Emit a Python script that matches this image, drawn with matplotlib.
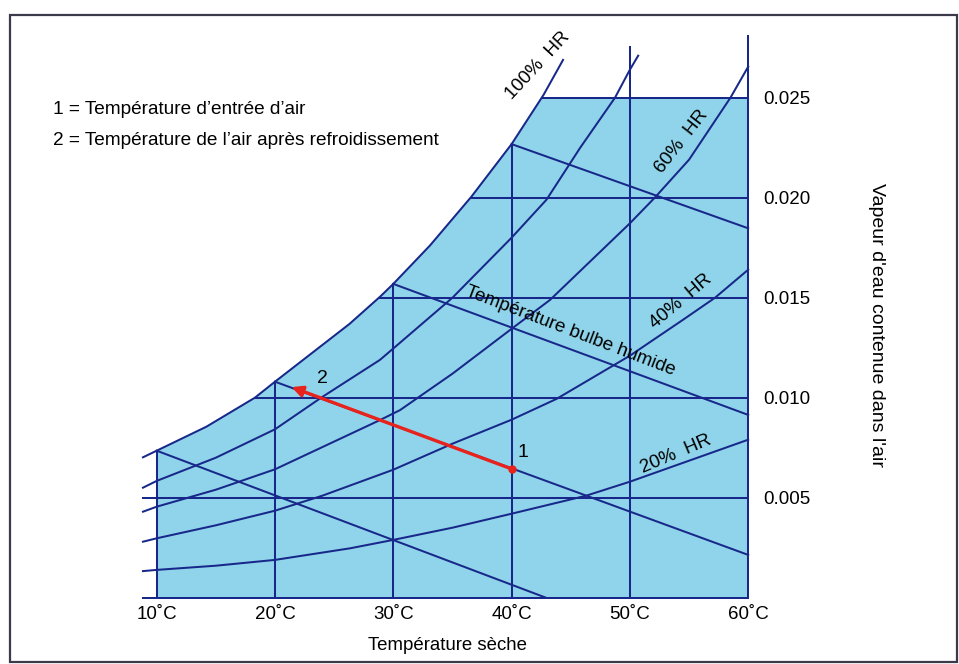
import matplotlib
matplotlib.use("Agg")
import matplotlib.pyplot as plt
import matplotlib.patches as mpatches

temp_ticks = [10, 20, 30, 40, 50, 60]
temp_labels = ["10˚C", "20˚C", "30˚C", "40˚C", "50˚C", "60˚C"]
w_ticks = [0.005, 0.010, 0.015, 0.020, 0.025]
w_labels = ["0.005", "0.010", "0.015", "0.020", "0.025"]

# courbes d'humidité relative (température sèche, teneur en eau)
rh100_t = [8.84, 10, 14.2, 18.3, 20, 26.3, 28.9, 30, 33.1, 36.6, 40, 42.7, 44.35]
rh100_w = [0.00702, 0.00735, 0.00855, 0.0100, 0.0108, 0.01369, 0.01506, 0.01569,
           0.01761, 0.02005, 0.02268, 0.02514, 0.02689]
rh80_t = [8.84, 10, 15, 20, 23.95, 28.87, 30, 35, 40, 42.95, 45.8, 48.74, 50, 50.7]
rh80_w = [0.0055, 0.00584, 0.0070, 0.00842, 0.01002, 0.01189, 0.01246, 0.0150,
          0.0180, 0.0199, 0.0225, 0.0250, 0.0264, 0.0271]
rh60_t = [8.84, 10, 15, 20, 28.87, 30.57, 35, 39.9, 43.25, 50, 52.1, 55, 58.5, 60]
rh60_w = [0.0043, 0.00455, 0.0054, 0.00642, 0.00888, 0.00938, 0.0112, 0.0134,
          0.01489, 0.01872, 0.0200, 0.0219, 0.0250, 0.02655]
rh40_t = [8.84, 10, 15, 20, 24.0, 30, 35, 40, 43.8, 50, 54.5, 57.2, 60]
rh40_w = [0.0028, 0.00297, 0.00362, 0.00435, 0.0051, 0.0064, 0.0077, 0.0089,
          0.00994, 0.0121, 0.0139, 0.0150, 0.0164]
rh20_t = [8.84, 10, 15, 20, 26.35, 30, 35, 40, 46.3, 50, 60]
rh20_w = [0.00133, 0.00139, 0.0016, 0.00189, 0.00247, 0.00289, 0.0035, 0.0042,
          0.0051, 0.0058, 0.0079]

# lignes de température humide (départ sur la saturation)
wb_t0 = [10, 20, 30, 40]
wb_w0 = [0.00735, 0.0108, 0.01569, 0.02268]
wb_t1 = [42.9, 60, 60, 60]
wb_w1 = [0.0, 0.00214, 0.00914, 0.01847]

# verticales (température sèche) : hauteur atteinte
dry_top_w = [0.00735, 0.0108, 0.01569, 0.02268, 0.02753, 0.0281]
# horizontales (teneur en eau) : départ à gauche
hor_w = [0.0, 0.005, 0.010, 0.015, 0.020, 0.025]
hor_t0 = [8.84, 8.84, 18.3, 28.9, 36.6, 42.6]

# transformation 1 -> 2
p1_t, p1_w = 40, 0.00644
p2_t, p2_w = 21.4, 0.01053

# ── figure ───────────────────────────────────────────────────────────────────
NAVY = "#18288a"
FILL = "#8fd4ea"
RED = "#e8221c"
SANS = ["Liberation Sans", "DejaVu Sans"]

W_PX, H_PX = 959, 664
fig = plt.figure(figsize=(W_PX / 100, H_PX / 100), dpi=100)
ax = fig.add_axes([130 / W_PX, 61 / H_PX, 630 / W_PX, 573 / H_PX])
ax.set_xlim(7.743, 60.998)
ax.set_ylim(-0.000265, 0.028385)
for s in ax.spines.values():
    s.set_visible(False)

# zone bleue sous la saturation, plafonnée à 0.025
top_w = hor_w[-1]
sat = [(t, w) for t, w in zip(rh100_t, rh100_w) if t >= 10 and w < top_w]
poly_t = [10] + [t for t, _ in sat] + [hor_t0[-1], 60, 60]
poly_w = [0] + [w for _, w in sat] + [top_w, top_w, 0]
ax.fill(poly_t, poly_w, color=FILL, lw=0, zorder=1)

lw = 1.45
for t, top in zip(temp_ticks, dry_top_w):
    ax.plot([t, t], [0, top], color=NAVY, lw=lw, zorder=2)
for w, t0 in zip(hor_w, hor_t0):
    ax.plot([t0, 60], [w, w], color=NAVY, lw=lw, zorder=2)
for tt, ww in [(rh100_t, rh100_w), (rh80_t, rh80_w), (rh60_t, rh60_w),
               (rh40_t, rh40_w), (rh20_t, rh20_w)]:
    ax.plot(tt, ww, color=NAVY, lw=lw, zorder=2, solid_joinstyle="round")
for a, b, c, d in zip(wb_t0, wb_w0, wb_t1, wb_w1):
    ax.plot([a, c], [b, d], color=NAVY, lw=lw, zorder=2)

# flèche rouge
ax.annotate("", xy=(p2_t, p2_w), xytext=(p1_t, p1_w),
            arrowprops=dict(arrowstyle="-|>", color=RED, lw=2.4,
                            mutation_scale=16, shrinkA=0, shrinkB=0), zorder=4)
ax.plot([p1_t], [p1_w], "o", color=RED, ms=5, zorder=5)
ax.text(40.97, 0.00724, "1", fontsize=14, family=SANS, ha="center", va="center")
ax.text(23.97, 0.01098, "2", fontsize=14, family=SANS, ha="center", va="center")

# étiquettes des courbes
lab = dict(family=SANS, fontsize=13.5, ha="center", va="center", zorder=6)
ax.text(42.25, 0.02659, "100%  HR", rotation=47, **lab)
ax.text(54.41, 0.02278, "60%  HR", rotation=52, **lab)
ax.text(54.3, 0.0148, "40%  HR", rotation=40, **lab)
ax.text(53.9, 0.00719, "20%  HR", rotation=23, **lab)
ax.text(44.94, 0.01335, "Température bulbe humide", rotation=-21,
        family=SANS, fontsize=13.6, ha="center", va="center", zorder=6)

# axes
ax.set_xticks(temp_ticks)
ax.set_xticklabels(temp_labels, family=SANS, fontsize=13.5)
ax.set_yticks(w_ticks)
ax.set_yticklabels(w_labels, family=SANS, fontsize=13.5)
ax.yaxis.tick_right()
ax.tick_params(length=0, pad=2)

fig.text(448 / W_PX, 1 - 645 / H_PX, "Température sèche", family=SANS,
         fontsize=13.4, ha="center", va="center")
fig.text(877 / W_PX, 1 - 325 / H_PX, "Vapeur d'eau contenue dans l'air",
         family=SANS, fontsize=14, rotation=270, ha="center", va="center")

# légende
fig.text(53 / W_PX, 1 - 114 / H_PX, "1 = Température d’entrée d’air",
         family=SANS, fontsize=13.7, ha="left", va="baseline")
fig.text(53 / W_PX, 1 - 145 / H_PX, "2 = Température de l’air après refroidissement",
         family=SANS, fontsize=13.7, ha="left", va="baseline")

# cadre
fig.add_artist(mpatches.Rectangle((10 / W_PX, 1 - 662 / H_PX), 947 / W_PX, 647 / H_PX,
                                  transform=fig.transFigure, fill=False,
                                  edgecolor="#3a3a4a", lw=1.6))

fig.savefig("out.png", dpi=100)
